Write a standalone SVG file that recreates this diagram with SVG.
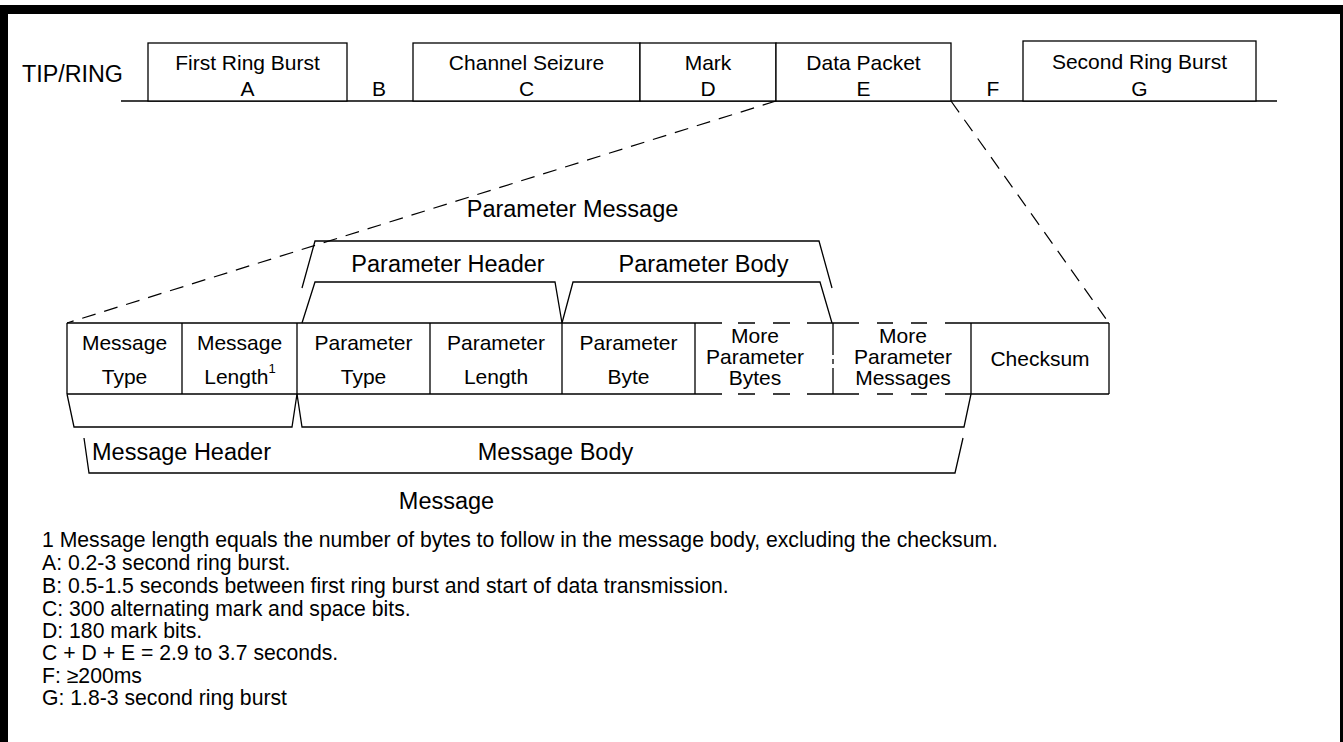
<svg xmlns="http://www.w3.org/2000/svg" width="1343" height="742" viewBox="0 0 1343 742">
<style>
.ln{stroke:#000;stroke-width:1.3;fill:none}
.bx{stroke:#000;stroke-width:1.3;fill:#fff}
.cn{stroke:#000;stroke-width:1.2;fill:none;stroke-dasharray:14 9}
text{font-family:"Liberation Sans",Arial,Helvetica,sans-serif;fill:#000}
.s21{font-size:21px;text-anchor:middle}
.s24{font-size:23.5px;text-anchor:middle}
.fn{font-size:21.2px}
</style>
<rect width="1343" height="742" fill="#fff"/>
<g id="frame">
<rect x="0" y="5" width="1343" height="9" fill="#000"/>
<rect x="0" y="5" width="8" height="737" fill="#000"/>
<rect x="1340" y="5" width="3" height="737" fill="#000"/>
</g>
<g id="timeline">
<text x="22" y="82" font-size="23.3">TIP/RING</text>
<path class="ln" d="M121 101 H1277"/>
</g>
<g id="nodeA">
<rect class="bx" x="148" y="43" width="199" height="58"/>
<text class="s21" x="247.5" y="70">First Ring Burst</text>
<text class="s21" x="247.5" y="95.5">A</text>
</g>
<g id="nodeB"><text class="s21" x="379" y="95.5">B</text></g>
<g id="nodeC">
<rect class="bx" x="413" y="43" width="227" height="58"/>
<text class="s21" x="526.5" y="70">Channel Seizure</text>
<text class="s21" x="526.5" y="95.5">C</text>
</g>
<g id="nodeD">
<rect class="bx" x="640" y="43" width="136" height="58"/>
<text class="s21" x="708" y="70">Mark</text>
<text class="s21" x="708" y="95.5">D</text>
</g>
<g id="nodeE">
<rect class="bx" x="776" y="43" width="175" height="58"/>
<text class="s21" x="863.5" y="70">Data Packet</text>
<text class="s21" x="863.5" y="95.5">E</text>
</g>
<g id="nodeF"><text class="s21" x="993" y="95.5">F</text></g>
<g id="nodeG">
<rect class="bx" x="1023" y="41" width="233" height="60"/>
<text class="s21" x="1139.5" y="69">Second Ring Burst</text>
<text class="s21" x="1139.5" y="95.5">G</text>
</g>
<g id="connectors">
<path class="cn" d="M776 101 L67 323"/>
<path class="cn" d="M951 101 L1109 323"/>
</g>
<g id="paramMessage">
<path class="ln" d="M302 288 L315 241 H819 L832 288"/>
<text class="s24" x="572.5" y="217">Parameter Message</text>
</g>
<g id="paramHeader">
<path class="ln" d="M302 323 L315 282 H555 L562 323"/>
<text class="s24" x="448" y="272">Parameter Header</text>
</g>
<g id="paramBody">
<path class="ln" d="M562 323 L573 282 H820 L832 323"/>
<text class="s24" x="703.5" y="272">Parameter Body</text>
</g>
<g id="messageRow">
<path class="ln" d="M67 323 H722 M738 323 H755 M773 323 H790 M807 323 H859 M877 323 H893 M911 323 H927 M945 323 H1109"/>
<path class="ln" d="M67 394 H722 M738 394 H755 M773 394 H790 M807 394 H859 M877 394 H893 M911 394 H927 M945 394 H1109"/>
<path class="ln" d="M67 323 V394 M182 323 V394 M297 323 V394 M430 323 V394 M562 323 V394 M695 323 V394 M971 323 V394 M1109 323 V394"/>
<path class="ln" d="M833 323 V355 M833 359 V364 M833 368 V394"/>
</g>
<g id="msgType">
<text class="s21" x="124.5" y="350">Message</text>
<text class="s21" x="124.5" y="384">Type</text>
</g>
<g id="msgLength">
<text class="s21" x="239.5" y="350">Message</text>
<text class="s21" x="240" y="384">Length<tspan font-size="13" dy="-11">1</tspan></text>
</g>
<g id="paramType">
<text class="s21" x="363.5" y="350">Parameter</text>
<text class="s21" x="363.5" y="384">Type</text>
</g>
<g id="paramLength">
<text class="s21" x="496" y="350">Parameter</text>
<text class="s21" x="496" y="384">Length</text>
</g>
<g id="paramByte">
<text class="s21" x="628.5" y="350">Parameter</text>
<text class="s21" x="628.5" y="384">Byte</text>
</g>
<g id="moreBytes">
<text class="s21" x="755" y="343">More</text>
<text class="s21" x="755" y="364">Parameter</text>
<text class="s21" x="755" y="385">Bytes</text>
</g>
<g id="moreMessages">
<text class="s21" x="903" y="343">More</text>
<text class="s21" x="903" y="364">Parameter</text>
<text class="s21" x="903" y="385">Messages</text>
</g>
<g id="checksum">
<text class="s21" x="1040" y="366">Checksum</text>
</g>
<g id="msgHeaderBracket">
<path class="ln" d="M67 394 L74 427 H292 L297 394"/>
</g>
<g id="msgBodyBracket">
<path class="ln" d="M297 394 L302 427 H964 L971 394"/>
</g>
<g id="messageBracket">
<path class="ln" d="M84 438 L89 473 H955 L963 438"/>
<text x="92" y="460" font-size="23.5">Message Header</text>
<text class="s24" x="555.5" y="460">Message Body</text>
<text class="s24" x="446.5" y="509">Message</text>
</g>
<g id="notes">
<text class="fn" x="42" y="547">1 Message length equals the number of bytes to follow in the message body, excluding the checksum.</text>
<text class="fn" x="42" y="570">A: 0.2-3 second ring burst.</text>
<text class="fn" x="42" y="593">B: 0.5-1.5 seconds between first ring burst and start of data transmission.</text>
<text class="fn" x="42" y="616">C: 300 alternating mark and space bits.</text>
<text class="fn" x="42" y="638">D: 180 mark bits.</text>
<text class="fn" x="42" y="660">C + D + E = 2.9 to 3.7 seconds.</text>
<text class="fn" x="42" y="683">F: ≥200ms</text>
<text class="fn" x="42" y="705">G: 1.8-3 second ring burst</text>
</g>
</svg>
